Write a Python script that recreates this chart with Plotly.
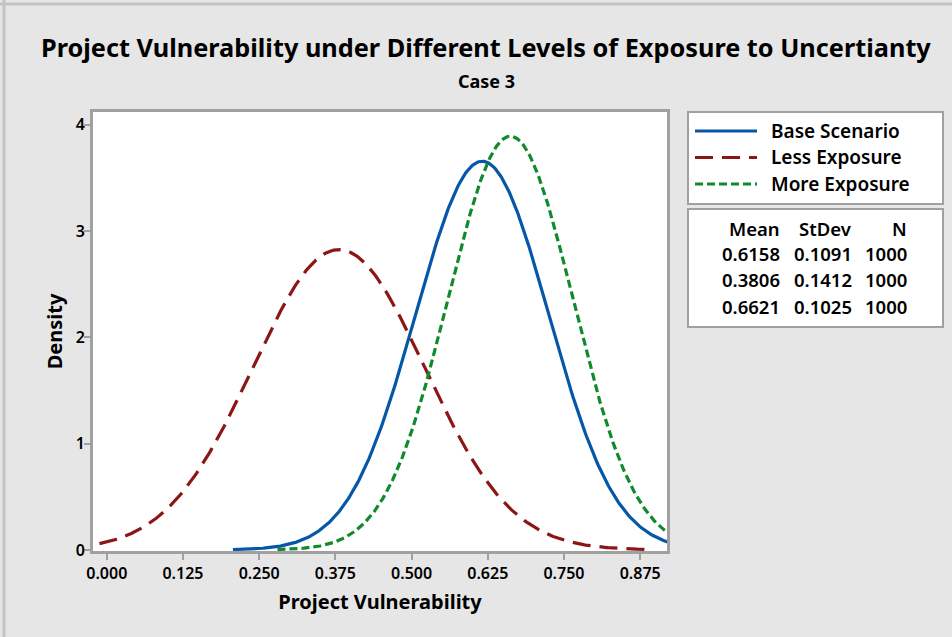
import numpy as np
import plotly.graph_objects as go

# Fitted normal distributions for each exposure scenario
series_names = ["Base Scenario", "Less Exposure", "More Exposure"]
means = [0.6158, 0.3806, 0.6621]
stdevs = [0.1091, 0.1412, 0.1025]
counts = [1000, 1000, 1000]
# span of the observed data over which each fitted curve is drawn
fit_lo = [0.207, -0.012, 0.280]
fit_hi = [0.925, 0.895, 0.925]

colors = ["#0657a8", "#8c1515", "#108a2c"]
dashes = ["solid", "18px,9px", "8px,4px"]

x_ticks = [0.000, 0.125, 0.250, 0.375, 0.500, 0.625, 0.750, 0.875]
y_ticks = [0, 1, 2, 3, 4]

W, H = 952, 637
ML, MR, MT, MB = 93, 285, 112, 86
PW, PH = W - ML - MR, H - MT - MB

FONT = "Noto Sans"


def px(xp):
    return (xp - ML) / PW


def py(yp):
    return (H - MB - yp) / PH


def txt(size, weight=600):
    return dict(family=FONT, size=size, color="black", weight=weight)


fig = go.Figure()
for name, mu, sd, lo, hi, c, d in zip(series_names, means, stdevs, fit_lo, fit_hi, colors, dashes):
    x = np.linspace(lo, hi, 400)
    y = np.exp(-0.5 * ((x - mu) / sd) ** 2) / (sd * np.sqrt(2 * np.pi))
    fig.add_trace(go.Scatter(x=x, y=y, mode="lines", name=name, showlegend=False,
                             line=dict(color=c, width=3.2, dash=d)))

shapes = []
annotations = []

# legend box with line samples
shapes.append(dict(type="rect", xref="paper", yref="paper", x0=px(688), x1=px(943), y0=py(112), y1=py(204),
                   line=dict(color="#a0a0a0", width=2), fillcolor="white", layer="below"))
for i, (name, c, d) in enumerate(zip(series_names, colors, dashes)):
    yy = 131 + i * 26.5
    shapes.append(dict(type="line", xref="paper", yref="paper", x0=px(695), x1=px(757), y0=py(yy), y1=py(yy),
                       line=dict(color=c, width=3.2, dash=d)))
    annotations.append(dict(xref="paper", yref="paper", x=px(769), y=py(yy), text=name, showarrow=False,
                            xanchor="left", yanchor="middle", font=txt(19)))

# statistics table
shapes.append(dict(type="rect", xref="paper", yref="paper", x0=px(688), x1=px(943), y0=py(209), y1=py(327),
                   line=dict(color="#a0a0a0", width=2), fillcolor="white", layer="below"))
col_right = [782, 854, 909]
headers = ["Mean", "StDev", "N"]
for j, h in enumerate(headers):
    annotations.append(dict(xref="paper", yref="paper", x=px(col_right[j]), y=py(228), text=h, showarrow=False,
                            xanchor="right", yanchor="middle", font=txt(18.5)))
for i in range(len(series_names)):
    row = [f"{means[i]:.4f}", f"{stdevs[i]:.4f}", f"{counts[i]}"]
    for j, v in enumerate(row):
        annotations.append(dict(xref="paper", yref="paper", x=px(col_right[j]), y=py(253 + i * 26.5), text=v,
                                showarrow=False, xanchor="right", yanchor="middle", font=txt(18.5)))

# titles
annotations.append(dict(xref="paper", yref="paper", x=px(486), y=py(47),
                        text="Project Vulnerability under Different Levels of Exposure to Uncertianty",
                        showarrow=False, xanchor="center", yanchor="middle", font=txt(25.3, 700)))
annotations.append(dict(xref="paper", yref="paper", x=px(486), y=py(81), text="Case 3",
                        showarrow=False, xanchor="center", yanchor="middle", font=txt(18, 700)))

# outer frame
shapes.append(dict(type="line", xref="paper", yref="paper", x0=px(0), x1=px(W), y0=py(4), y1=py(4),
                   line=dict(color="#c4c4c4", width=3)))
shapes.append(dict(type="line", xref="paper", yref="paper", x0=px(4), x1=px(4), y0=py(0), y1=py(H),
                   line=dict(color="#c4c4c4", width=3)))

axis_common = dict(ticks="outside", ticklen=6, tickwidth=2, tickcolor="#a0a0a0",
                   showline=True, linecolor="#a0a0a0", linewidth=3, mirror=True,
                   showgrid=False, zeroline=False, tickfont=txt(16, 600))

fig.update_layout(
    width=W, height=H,
    margin=dict(l=ML, r=MR, t=MT, b=MB),
    paper_bgcolor="#e6e6e6", plot_bgcolor="white",
    font=dict(family=FONT, color="black"),
    showlegend=False,
    shapes=shapes, annotations=annotations,
    xaxis=dict(range=[-0.0226, 0.919], tickvals=x_ticks, tickformat=".3f",
               title=dict(text="Project Vulnerability", font=txt(20, 700), standoff=12), **axis_common),
    yaxis=dict(range=[-0.01, 4.12], tickvals=y_ticks, ticklabelstandoff=-4,
               title=dict(text="Density", font=txt(20, 700), standoff=8), **axis_common),
)

fig.write_html("out.html")
